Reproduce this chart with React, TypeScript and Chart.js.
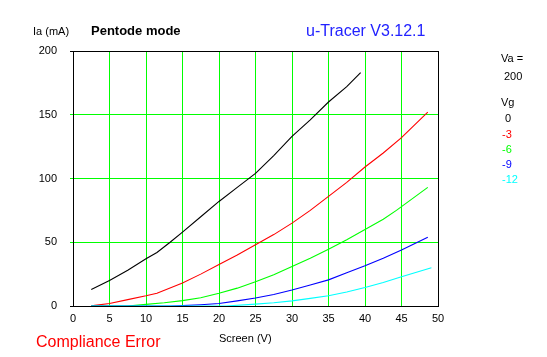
import React, { useEffect, useRef } from "react";
import { Chart, registerables } from "chart.js";

Chart.register(...registerables);

const xTicksMax = 50;
const yTicksMax = 200;

const vg0V = [2.5, 5, 7.5, 10, 11.5, 13.3, 15, 17.5, 20, 22.5, 25, 27.5, 30, 32.5, 35, 37.5, 39.4];
const vg0I = [13, 20, 28, 37, 42, 50, 58, 70, 82, 93, 104, 118, 133, 146, 160, 172, 183];

const vg3V = [2.5, 3, 5, 7.5, 10, 11.5, 15, 17.5, 20, 22.5, 25, 27.5, 30, 32.5, 35, 37.5, 40, 42.5, 45, 48.6];
const vg3I = [0, 0.5, 2, 5, 8, 10, 18, 25, 32.5, 40, 48, 56, 65, 75, 86, 97, 109, 120, 132, 152];

const vg6V = [2.5, 7.5, 10, 12.5, 15, 17.5, 20, 22.5, 25, 27.5, 30, 32.5, 35, 37.5, 40, 42.5, 44.3, 48.6];
const vg6I = [0, 0, 1.3, 2.5, 4.2, 6.5, 10, 14, 19, 24.5, 31, 37.5, 44.5, 52, 60, 68, 75, 93];

const vg9V = [2.5, 13.3, 15, 17.5, 20, 22.5, 25, 27.5, 30, 32.5, 35, 37.5, 40, 42.5, 45, 48.6];
const vg9I = [0, 0, 0.3, 1, 2, 4, 6.3, 9, 12.5, 16.5, 20.5, 26, 31.5, 37.5, 44, 54];

const vg12V = [2.5, 21, 25, 27.5, 30, 32.5, 35, 37.5, 40, 42.5, 45, 49.1];
const vg12I = [0, 0, 1.5, 2.5, 4, 6, 8, 11, 14.5, 18.5, 23, 30];

const seriesLabels = ["0", "-3", "-6", "-9", "-12"];
const seriesColors = ["#000000", "#ff0000", "#00ff00", "#0000ff", "#00ffff"];

const FONT = "'Liberation Sans', Arial, sans-serif";

function pts(xs: number[], ys: number[]) {
  return xs.map((x, i) => ({ x, y: ys[i] }));
}

const textPlugin = {
  id: "texts",
  afterDraw(chart: any) {
    const ctx = chart.ctx as CanvasRenderingContext2D;
    ctx.save();
    ctx.textBaseline = "alphabetic";
    ctx.textAlign = "left";
    ctx.fillStyle = "#000";
    ctx.font = `11px ${FONT}`;
    ctx.fillText("Ia (mA)", 33, 35);
    ctx.font = `bold 13px ${FONT}`;
    ctx.fillText("Pentode mode", 91, 35);
    ctx.font = `16px ${FONT}`;
    ctx.fillStyle = "#2222ff";
    ctx.fillText("u-Tracer V3.12.1", 306, 36);
    ctx.fillStyle = "#ff0000";
    ctx.font = `16px ${FONT}`;
    ctx.fillText("Compliance Error", 36, 347);
    ctx.fillStyle = "#000";
    ctx.font = `11px ${FONT}`;
    ctx.fillText("Screen (V)", 219, 342);
    ctx.fillText("Va =", 501, 62);
    ctx.fillText("200", 504, 80);
    ctx.fillText("Vg", 501, 106);
    const ys = [122, 138, 153, 168, 183];
    seriesLabels.forEach((l, i) => {
      ctx.fillStyle = seriesColors[i];
      ctx.fillText(l, i === 0 ? 505 : 502, ys[i]);
    });
    ctx.restore();
  },
};

export default function App() {
  const ref = useRef<HTMLCanvasElement>(null);
  useEffect(() => {
    const xs = [vg0V, vg3V, vg6V, vg9V, vg12V];
    const ysAll = [vg0I, vg3I, vg6I, vg9I, vg12I];
    const chart = new Chart(ref.current!, {
      type: "line",
      data: {
        datasets: xs.map((x, i) => ({
          label: seriesLabels[i],
          data: pts(x, ysAll[i]),
          borderColor: seriesColors[i],
          backgroundColor: seriesColors[i],
          borderWidth: 1.1,
          pointRadius: 0,
          tension: 0,
          fill: false,
          order: 4 - i,
        })),
      },
      options: {
        animation: false,
        responsive: false,
        devicePixelRatio: 1,
        events: [],
        layout: { padding: { left: 0, top: 51, right: 109, bottom: 0 } },
        plugins: { legend: { display: false }, tooltip: { enabled: false }, title: { display: false } },
        scales: {
          x: {
            type: "linear",
            min: 0,
            max: xTicksMax,
            afterFit: (s: any) => { s.height = 51; },
            ticks: { stepSize: 5, color: "#000", font: { family: FONT, size: 11 }, padding: 6, maxRotation: 0, autoSkip: false },
            grid: {
              color: (c: any) => (c.tick && (c.tick.value === 0 || c.tick.value === xTicksMax) ? "#000" : "#00ff00"),
              lineWidth: 1,
              drawTicks: false,
            },
            border: { display: true, color: "#000", width: 1 },
          },
          y: {
            type: "linear",
            min: 0,
            max: yTicksMax,
            afterFit: (s: any) => { s.width = 73; },
            ticks: { stepSize: 50, color: "#000", font: { family: FONT, size: 11 }, padding: 13 },
            grid: {
              color: (c: any) => (c.tick && (c.tick.value === 0 || c.tick.value === yTicksMax) ? "#000" : "#00ff00"),
              lineWidth: 1,
              tickLength: 3,
            },
            border: { display: true, color: "#000", width: 1 },
          },
        },
      },
      plugins: [textPlugin],
    });
    return () => chart.destroy();
  }, []);
  return (
    <div style={{ position: "absolute", left: 0, top: 0, width: 547, height: 357, background: "#fff" }}>
      <canvas ref={ref} width={547} height={357} style={{ display: "block" }} />
    </div>
  );
}
